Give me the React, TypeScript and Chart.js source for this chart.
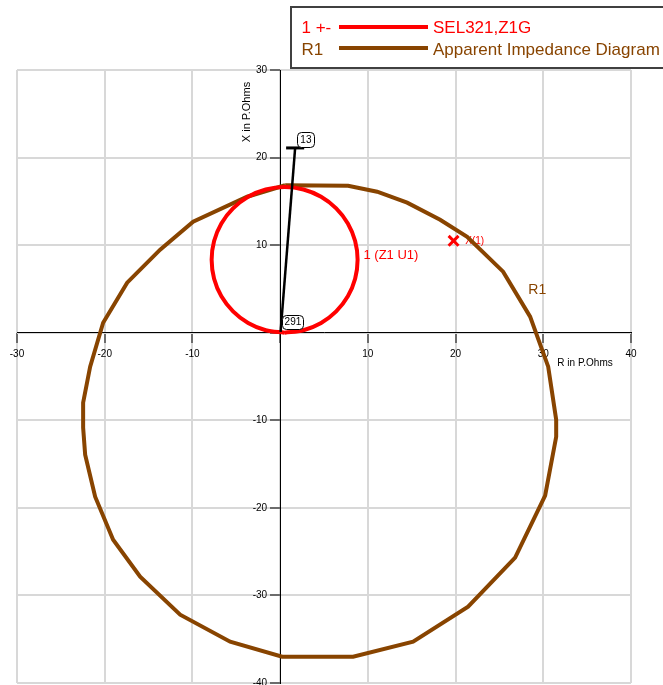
import { useEffect, useRef } from 'react';
import { Chart, registerables } from 'chart.js';

Chart.register(...registerables);

// R-X plane (primary ohms)
const rMin = -30;
const rMax = 40;
const xMin = -40;
const xMax = 30;
const tickStep = 10;

// SEL321 Z1G mho characteristic (traced from its reach point at the origin)
const zoneR = [0.51, 2.66, 4.67, 6.39, 7.72, 8.55, 8.83, 8.55, 7.72, 6.39, 4.67, 2.66, 0.51, -1.64, -3.65, -5.37, -6.7, -7.53, -7.81, -7.53, -6.7, -5.37, -3.65, -1.64, 0.51];
const zoneX = [0.0, 0.28, 1.11, 2.44, 4.16, 6.17, 8.32, 10.47, 12.48, 14.2, 15.53, 16.36, 16.64, 16.36, 15.53, 14.2, 12.48, 10.47, 8.32, 6.17, 4.16, 2.44, 1.11, 0.28, 0.0];

// R1 apparent impedance boundary
const apparentR = [0.57, 7.75, 11.06, 14.48, 18.24, 21.32, 25.42, 28.5, 30.56, 31.47, 31.47, 30.21, 26.79, 21.43, 15.16, 8.32, 0.23, -5.7, -11.4, -15.96, -19.04, -21.09, -22.23, -22.46, -22.46, -21.66, -20.18, -17.44, -13.68, -9.92, -3.76, 0.57];
const apparentX = [16.84, 16.79, 16.1, 14.85, 12.9, 10.96, 6.97, 1.83, -3.88, -9.93, -11.88, -18.61, -25.69, -31.29, -35.29, -37.0, -37.0, -35.29, -32.2, -27.86, -23.64, -18.73, -13.93, -10.85, -7.99, -3.88, 1.14, 5.71, 9.48, 12.68, 15.53, 16.84];

// impedance trajectory from sample 291 to sample 13
const traceR = [0.05, 1.71];
const traceX = [0.1, 21.1];
const capR = [0.68, 2.74];
const capX = [21.1, 21.1];
const traceLabels = ['291', '13'];
const traceLabelR = [1.46, 2.94];
const traceLabelX = [1.26, 22.07];

// fault point
const faultR = [19.77];
const faultX = [10.49];

const legendKeys = ['1 +-', 'R1'];
const legendNames = ['SEL321,Z1G', 'Apparent Impedance Diagram'];

const RED = '#ff0000';
const BROWN = '#884400';
const FONT = "'Liberation Sans', Arial, sans-serif";

const pts = (rs: number[], xs: number[]) => rs.map((r, i) => ({ x: r, y: xs[i] }));

const annotations = {
  id: 'rxAnnotations',
  beforeDatasetsDraw(chart: any) {
    const { ctx } = chart;
    const xs = chart.scales.x;
    const ys = chart.scales.y;
    const x0 = xs.getPixelForValue(0);
    const y0 = ys.getPixelForValue(0);
    ctx.save();
    ctx.fillStyle = '#000';
    ctx.font = `10px ${FONT}`;
    ctx.textAlign = 'center';
    ctx.textBaseline = 'middle';
    xs.ticks.forEach((t: any) => {
      if (t.value === 0) return;
      ctx.fillText(String(t.value), xs.getPixelForValue(t.value), y0 + 22);
    });
    ctx.textAlign = 'right';
    ys.ticks.forEach((t: any) => {
      if (t.value === 0) return;
      ctx.fillText(String(t.value), x0 - 13, ys.getPixelForValue(t.value));
    });
    // axis titles
    ctx.textAlign = 'left';
    ctx.fillText('R in P.Ohms', xs.getPixelForValue(31.6), y0 + 31);
    ctx.save();
    ctx.translate(x0 - 33, ys.getPixelForValue(25.2));
    ctx.rotate(-Math.PI / 2);
    ctx.textAlign = 'center';
    ctx.font = `11px ${FONT}`;
    ctx.fillText('X in P.Ohms', 0, 0);
    ctx.restore();

    // characteristic and point labels
    ctx.textBaseline = 'alphabetic';
    ctx.textAlign = 'left';
    ctx.fillStyle = RED;
    ctx.font = `13px ${FONT}`;
    ctx.fillText('1 (Z1 U1)', xs.getPixelForValue(9.5), ys.getPixelForValue(8.42));
    ctx.font = `10px ${FONT}`;
    ctx.textBaseline = 'middle';
    ctx.fillText('X(1)', xs.getPixelForValue(21.1), ys.getPixelForValue(10.5));
    ctx.textBaseline = 'alphabetic';
    ctx.fillStyle = BROWN;
    ctx.font = `14px ${FONT}`;
    ctx.fillText('R1', xs.getPixelForValue(28.3), ys.getPixelForValue(4.45));
    ctx.restore();
  },
  afterDatasetsDraw(chart: any) {
    const { ctx } = chart;
    const xs = chart.scales.x;
    const ys = chart.scales.y;
    ctx.save();
    const sizes = [[21, 14], [17, 15]];
    traceLabels.forEach((txt, i) => {
      const cx = xs.getPixelForValue(traceLabelR[i]);
      const cy = ys.getPixelForValue(traceLabelX[i]);
      const [w, h] = sizes[i];
      ctx.beginPath();
      ctx.roundRect(Math.round(cx - w / 2) + 0.5, Math.round(cy - h / 2) + 0.5, w, h, 4);
      ctx.fillStyle = '#fff';
      ctx.fill();
      ctx.strokeStyle = '#000';
      ctx.lineWidth = 1;
      ctx.stroke();
      ctx.fillStyle = '#000';
      ctx.font = `10px ${FONT}`;
      ctx.textAlign = 'center';
      ctx.textBaseline = 'middle';
      ctx.fillText(txt, cx, cy + 0.5);
    });
    ctx.restore();
  },
  afterDraw(chart: any) {
    const { ctx } = chart;
    ctx.save();
    ctx.fillStyle = '#fff';
    ctx.fillRect(290, 6, 420, 62);
    ctx.strokeStyle = '#404040';
    ctx.lineWidth = 2;
    ctx.strokeRect(291, 7, 420, 61);
    ctx.font = `17px ${FONT}`;
    ctx.textBaseline = 'alphabetic';
    ctx.textAlign = 'left';
    legendKeys.forEach((key, i) => {
      const color = chart.data.datasets[i].borderColor;
      const lineY = 27 + i * 21;
      ctx.fillStyle = color;
      ctx.fillText(key, 301.5, 33.3 + i * 21.5);
      ctx.fillText(legendNames[i], 433, 33.3 + i * 21.5);
      ctx.strokeStyle = color;
      ctx.lineWidth = 4;
      ctx.beginPath();
      ctx.moveTo(339, lineY);
      ctx.lineTo(428, lineY);
      ctx.stroke();
    });
    ctx.restore();
  },
};

export default function App() {
  const ref = useRef<HTMLCanvasElement>(null);
  useEffect(() => {
    if (!ref.current) return;
    const lineDs = (label: string, data: any[], color: string, width: number, order: number, tension = 0) => ({
      label,
      data,
      borderColor: color,
      backgroundColor: color,
      borderWidth: width,
      showLine: true,
      fill: false,
      tension,
      pointRadius: 0,
      order,
    });
    const chart = new Chart(ref.current, {
      type: 'scatter',
      data: {
        datasets: [
          lineDs(legendNames[0], pts(zoneR, zoneX), RED, 4, 1, 0.35),
          lineDs(legendNames[1], pts(apparentR, apparentX), BROWN, 4, 2),
          lineDs('trace', pts(traceR, traceX), '#000', 2.5, 0),
          lineDs('trace end', pts(capR, capX), '#000', 3, 0),
          {
            label: 'X(1)',
            data: pts(faultR, faultX),
            borderColor: RED,
            backgroundColor: RED,
            pointStyle: 'crossRot',
            pointRadius: 7,
            pointBorderWidth: 3,
            borderWidth: 3,
            showLine: false,
            order: 0,
          } as any,
        ],
      },
      options: {
        responsive: false,
        animation: false,
        events: [],
        layout: { padding: { left: 17, right: 32, top: 70, bottom: 2 } },
        plugins: { legend: { display: false }, tooltip: { enabled: false } },
        scales: {
          x: {
            type: 'linear',
            min: rMin,
            max: rMax,
            position: { y: 0 } as any,
            ticks: { stepSize: tickStep, display: false },
            grid: { color: '#d8d8d8', lineWidth: 2, tickLength: 10, tickColor: '#000', tickWidth: 1 },
            border: { display: true, color: '#000', width: 1 },
          },
          y: {
            type: 'linear',
            min: xMin,
            max: xMax,
            position: { x: 0 } as any,
            ticks: { stepSize: tickStep, display: false },
            grid: { color: '#d8d8d8', lineWidth: 2, tickLength: 10, tickColor: '#000', tickWidth: 1 },
            border: { display: true, color: '#000', width: 1 },
          },
        },
      },
      plugins: [annotations],
    });
    return () => chart.destroy();
  }, []);
  return (
    <div style={{ position: 'fixed', left: 0, top: 0, width: 663, height: 685, overflow: 'hidden', background: '#fff' }}>
      <canvas ref={ref} width={663} height={693} style={{ display: 'block' }} />
    </div>
  );
}
